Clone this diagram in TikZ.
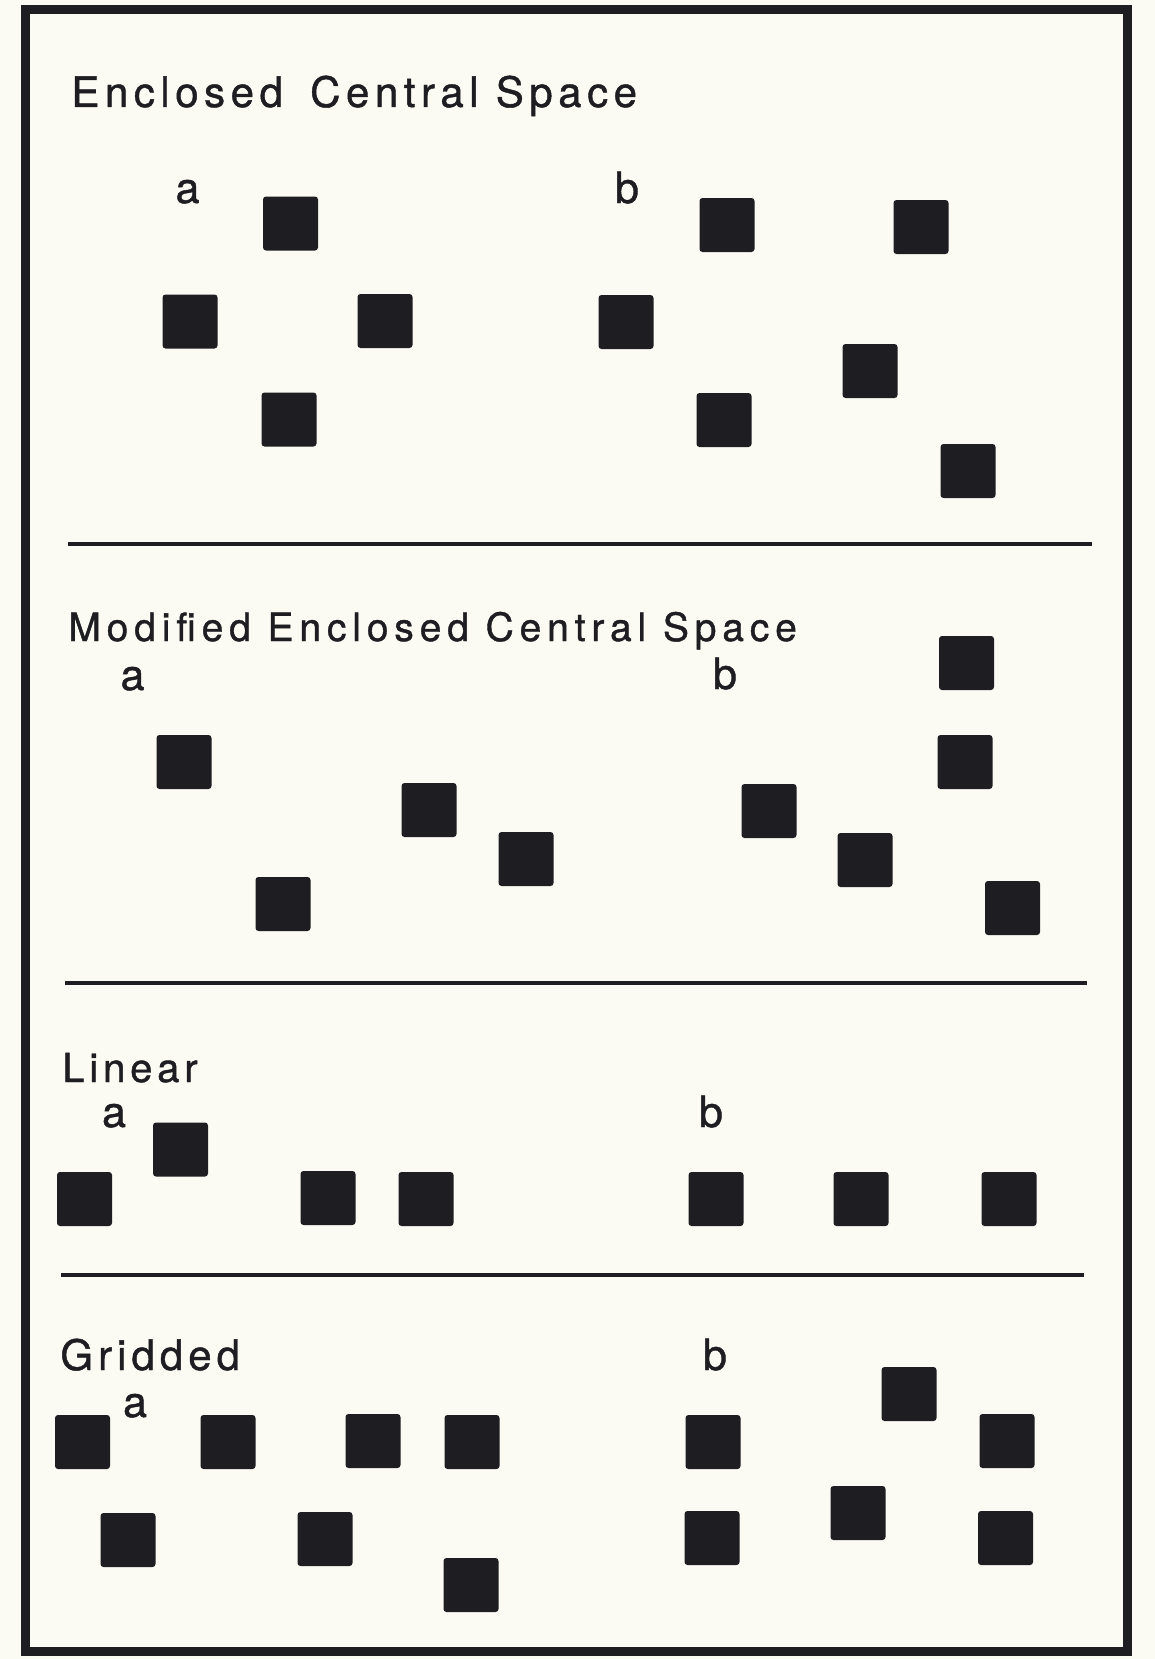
\documentclass[tikz,border=0pt]{standalone}
\usepackage{fontspec}
\setmainfont[FakeBold=1]{TeX Gyre Heros}
\newfontfamily\spacedfont[LetterSpace=12,FakeBold=1]{TeX Gyre Heros}
\newfontfamily\widefont[LetterSpace=13.2,FakeBold=1]{TeX Gyre Heros}
\newfontfamily\widerfont[LetterSpace=15,FakeBold=1]{TeX Gyre Heros}
\usepackage{xcolor}
\usetikzlibrary{positioning}
\definecolor{paper}{HTML}{FBFBF3}
\definecolor{ink}{HTML}{1D1D22}

\begin{document}
\begin{tikzpicture}[
  x=0.5pt, y=-0.5pt,
  post/.style={fill=ink, rounded corners=1.5pt, minimum width=27.5pt, minimum height=27pt, inner sep=0pt},
  heading/.style={anchor=base west, inner sep=0pt, text=ink, font=\spacedfont\fontsize{20}{24}\selectfont},
  tag/.style={anchor=base, inner sep=0pt, text=ink, font=\fontsize{21.5}{25}\selectfont},
  rule/.style={draw=ink, line width=1.7pt}
]
  \useasboundingbox (0,0) rectangle (1155,1659);
  \fill[paper] (0,0) rectangle (1155,1659);
  \draw[ink, line width=4.5pt] (25,10) rectangle (1127,1651);

  % enclosed central space
  \node[heading, font=\widefont\fontsize{21}{25}\selectfont] (t1) at (71,107) {Enclosed\hspace{5pt} Central Space};
  \node[tag] (t1a) at (187.5,203) {a};
  \node[tag] (t1b) at (627,203) {b};
  \node[post] (e1) at (290.5,223.5) {};
  \node[post] (e2) at (190,321.5) {};
  \node[post] (e3) at (385,321) {};
  \node[post] (e4) at (289,419.5) {};
  \node[post] (e5) at (727,225) {};
  \node[post] (e6) at (921,227) {};
  \node[post] (e7) at (626,322) {};
  \node[post] (e8) at (870,371) {};
  \node[post] (e9) at (724,420) {};
  \node[post] (e10) at (968,471) {};
  \coordinate (r1w) at (68,544);
  \coordinate (r1e) at (1092,544);
  \draw[rule] (r1w) -- (r1e);

  % modified enclosed central space
  \node[heading, font=\widerfont\fontsize{19.5}{24}\selectfont] (t2) at (68,641) {Modified Enclosed Central Space};
  \node[tag] (t2a) at (132.5,690) {a};
  \node[tag] (t2b) at (725,689) {b};
  \node[post] (m1) at (184,762) {};
  \node[post] (m2) at (429,810) {};
  \node[post] (m3) at (526,859) {};
  \node[post] (m4) at (283,904) {};
  \node[post] (m5) at (966.5,663) {};
  \node[post] (m6) at (965,762) {};
  \node[post] (m7) at (769,811) {};
  \node[post] (m8) at (865,860) {};
  \node[post] (m9) at (1012.5,908) {};
  \coordinate (r2w) at (64.5,983);
  \coordinate (r2e) at (1087,983);
  \draw[rule] (r2w) -- (r2e);

  % linear
  \node[heading] (t3) at (62,1082) {Linear};
  \node[tag] (t3a) at (114,1127) {a};
  \node[tag] (t3b) at (711,1127) {b};
  \node[post] (l1) at (84.5,1199) {};
  \node[post] (l2) at (180.5,1149.5) {};
  \node[post] (l3) at (328,1198) {};
  \node[post] (l4) at (426,1199) {};
  \node[post] (l5) at (716,1199) {};
  \node[post] (l6) at (861,1199) {};
  \node[post] (l7) at (1009,1199) {};
  \coordinate (r3w) at (61,1275);
  \coordinate (r3e) at (1084,1275);
  \draw[rule] (r3w) -- (r3e);

  % gridded
  \node[heading, font=\spacedfont\fontsize{21}{25}\selectfont] (t4) at (60,1370) {Gridded};
  \node[tag] (t4a) at (135,1417) {a};
  \node[tag] (t4b) at (715,1370) {b};
  \node[post] (g1) at (82.5,1442) {};
  \node[post] (g2) at (228,1442) {};
  \node[post] (g3) at (373,1441) {};
  \node[post] (g4) at (472,1442) {};
  \node[post] (g5) at (128,1540) {};
  \node[post] (g6) at (325,1539) {};
  \node[post] (g7) at (471,1585) {};
  \node[post] (g8) at (713,1442) {};
  \node[post] (g9) at (909,1394) {};
  \node[post] (g10) at (1007,1441) {};
  \node[post] (g11) at (712,1538) {};
  \node[post] (g12) at (858,1513) {};
  \node[post] (g13) at (1005.5,1538) {};
\end{tikzpicture}
\end{document}
